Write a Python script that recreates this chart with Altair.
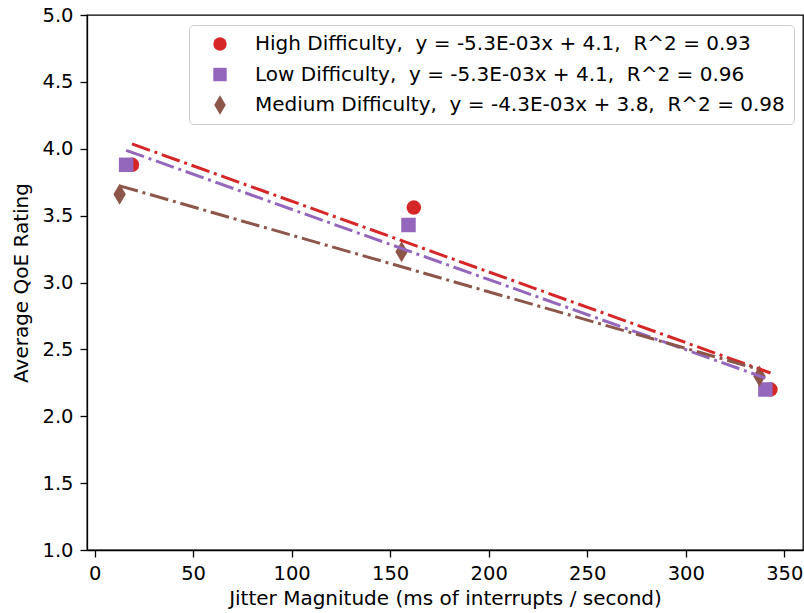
import altair as alt
import pandas as pd

# ---- data ----
series = ["High Difficulty", "Low Difficulty", "Medium Difficulty"]
fit_text = [
    "y = -5.3E-03x + 4.1,\u00a0 R^2 = 0.93",
    "y = -5.3E-03x + 4.1,\u00a0 R^2 = 0.96",
    "y = -4.3E-03x + 3.8,\u00a0 R^2 = 0.98",
]
jitter_high = [19.0, 162.0, 343.0]
qoe_high = [3.88, 3.56, 2.20]
jitter_low = [16.0, 159.3, 340.4]
qoe_low = [3.88, 3.43, 2.20]
jitter_med = [12.7, 155.8, 337.4]
qoe_med = [3.66, 3.23, 2.30]

colors = ["#d62728", "#9467bd", "#8c564b"]
shapes = ["circle", "square", "M0,-1.45L0.86,0L0,1.45L-0.86,0Z"]
x_ticks = [0, 50, 100, 150, 200, 250, 300, 350]
y_ticks = [1.0, 1.5, 2.0, 2.5, 3.0, 3.5, 4.0, 4.5, 5.0]

labels = [f"{s},\u00a0 {f}" for s, f in zip(series, fit_text)]

rows = []
for lab, xs, ys in zip(labels, [jitter_high, jitter_low, jitter_med], [qoe_high, qoe_low, qoe_med]):
    for xv, yv in zip(xs, ys):
        rows.append({"label": lab, "jitter": xv, "qoe": yv})
df = pd.DataFrame(rows)

x_enc = alt.X(
    "jitter:Q",
    scale=alt.Scale(domain=[-3.85, 359.5], nice=False, zero=False),
    axis=alt.Axis(values=x_ticks, title="Jitter Magnitude (ms of interrupts / second)", titlePadding=6),
)
y_enc = alt.Y(
    "qoe:Q",
    scale=alt.Scale(domain=[1.0, 5.0], nice=False, zero=False),
    axis=alt.Axis(values=y_ticks, format=".1f", title="Average QoE Rating", titlePadding=10),
)

legend = alt.Legend(
    title=None,
    orient="none",
    legendX=102,
    legendY=10,
    padding=9,
    rowPadding=10.5,
    symbolOffset=12,
    labelOffset=25,
    labelFont="DejaVu Sans",
    labelFontSize=20,
    labelColor="black",
    labelLimit=1000,
    strokeColor="#cccccc",
    cornerRadius=4,
    fillColor="white",
    symbolSize=180,
    symbolStrokeWidth=0,
)

points = alt.Chart(df).mark_point(filled=True, size=210, opacity=1, strokeWidth=0).encode(
    x=x_enc,
    y=y_enc,
    color=alt.Color("label:N", scale=alt.Scale(domain=labels, range=colors), legend=legend),
    shape=alt.Shape("label:N", scale=alt.Scale(domain=labels, range=shapes), legend=legend),
)

lines = (
    alt.Chart(df)
    .transform_regression("jitter", "qoe", groupby=["label"])
    .mark_line(strokeWidth=3, strokeDash=[19, 4.8, 3, 4.8], clip=True)
    .encode(
        x=alt.X("jitter:Q"),
        y=alt.Y("qoe:Q"),
        stroke=alt.Stroke("label:N", scale=alt.Scale(domain=labels, range=colors), legend=None),
    )
)

chart = (
    alt.layer(points, lines)
    .properties(
        width=716,
        height=535,
        autosize=alt.AutoSizeParams(type="none"),
        padding={"left": 87, "top": 15, "right": 1, "bottom": 63},
    )
    .configure(font="DejaVu Sans")
    .configure_view(stroke="black", strokeWidth=1.3)
    .configure_axis(
        labelFont="DejaVu Sans",
        titleFont="DejaVu Sans",
        labelFontSize=19.5,
        titleFontSize=20,
        titleFontWeight="normal",
        labelColor="black",
        titleColor="black",
        domainColor="black",
        tickColor="black",
        domainWidth=1.3,
        tickWidth=1.3,
        tickSize=7,
        labelPadding=7,
        grid=False,
        labelFlush=False,
        labelOverlap=False,
    )
)

chart.save("out.html", embed_options={"renderer": "svg", "actions": False})
